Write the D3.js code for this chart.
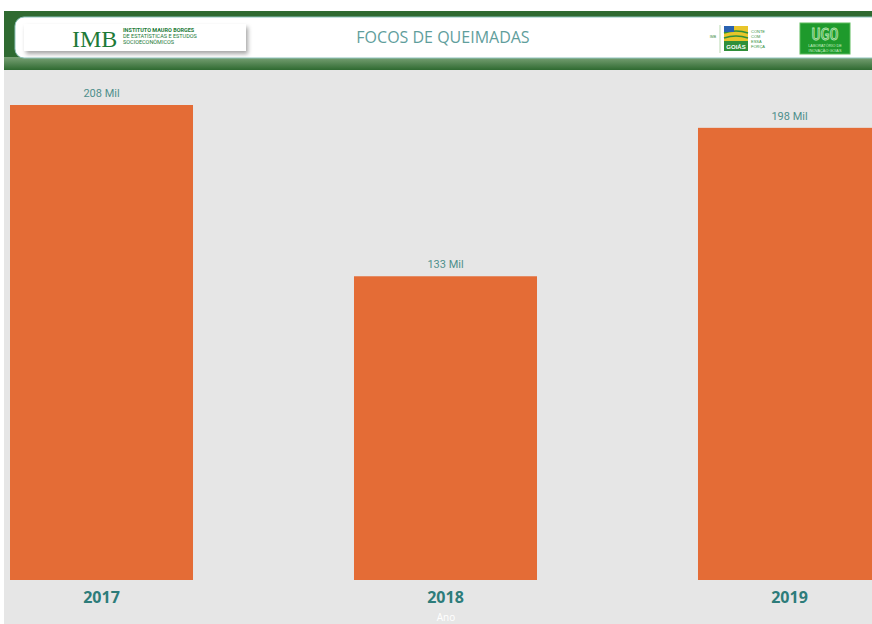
<!DOCTYPE html>
<html>
<head>
<meta charset="utf-8">
<script src="https://cdn.jsdelivr.net/npm/d3@7"></script>
<style>
  body { margin: 0; background: #fff; }
  svg { display: block; }
</style>
</head>
<body>
<div id="chart"></div>
<script>
// focos de queimadas por ano (milhares)
const years = ["2017", "2018", "2019"]
const focos = [208, 133, 198]
const title = "FOCOS DE QUEIMADAS"
const axisTitle = "Ano"

const w = 872
const h = 624

const svg = d3.select("#chart").append("svg")
    .attr("width", w)
    .attr("height", h)

const defs = svg.append("defs")
const grad = defs.append("linearGradient")
    .attr("id", "hdr").attr("x1", 0).attr("y1", 0).attr("x2", 0).attr("y2", 1)
grad.append("stop").attr("offset", "0%").attr("stop-color", "#7aa276")
grad.append("stop").attr("offset", "100%").attr("stop-color", "#2f6a31")

const shadow = defs.append("filter").attr("id", "sh")
    .attr("x", "-10%").attr("y", "-30%").attr("width", "120%").attr("height", "180%")
shadow.append("feDropShadow").attr("dx", 2).attr("dy", 3)
    .attr("stdDeviation", 2).attr("flood-color", "#000").attr("flood-opacity", 0.35)

// page background
svg.append("rect")
    .attr("x", 4).attr("y", 70).attr("width", w - 4).attr("height", h - 70)
    .attr("fill", "#e6e6e6")

// header
svg.append("rect")
    .attr("x", 4).attr("y", 11).attr("width", w - 4).attr("height", 59)
    .attr("fill", "#2f6a31")
svg.append("rect")
    .attr("x", 4).attr("y", 57).attr("width", w - 4).attr("height", 13)
    .attr("fill", "url(#hdr)")
svg.append("rect")
    .attr("x", 15).attr("y", 17).attr("width", w + 20).attr("height", 41)
    .attr("rx", 9)
    .attr("fill", "#fff")
    .attr("stroke", "#8fc3bd").attr("stroke-width", 1)

// IMB logo
svg.append("rect")
    .attr("x", 24).attr("y", 24).attr("width", 222).attr("height", 27)
    .attr("fill", "#fff")
    .attr("filter", "url(#sh)")
svg.append("text")
    .attr("x", 72).attr("y", 47)
    .attr("font-family", "Liberation Serif, DejaVu Serif, serif")
    .attr("font-size", 24)
    .attr("fill", "#1d7a37")
    .text("IMB")
const imbLines = ["INSTITUTO MAURO BORGES", "DE ESTATÍSTICAS E ESTUDOS", "SOCIOECONÔMICOS"]
svg.append("g").selectAll("text")
    .data(imbLines)
    .enter()
    .append("text")
    .attr("x", 123)
    .attr("y", (d, i) => 32 + i * 6)
    .attr("font-family", "Roboto, sans-serif")
    .attr("font-size", 5.5)
    .attr("font-weight", (d, i) => i === 0 ? "bold" : "normal")
    .attr("fill", "#1d7a37")
    .text(d => d)

// title
svg.append("text")
    .attr("x", 443).attr("y", 43)
    .attr("text-anchor", "middle")
    .attr("font-family", "Open Sans, sans-serif")
    .attr("font-size", 16)
    .attr("fill", "#5f9e9c")
    .text(title)

// Goias logo
svg.append("text").attr("x", 716).attr("y", 38).attr("text-anchor", "end")
    .attr("font-size", 3.5).attr("font-family", "sans-serif").attr("fill", "#3a8a3a").text("IMB")
svg.append("line").attr("x1", 720).attr("x2", 720).attr("y1", 25).attr("y2", 53)
    .attr("stroke", "#b9d8b0")
svg.append("rect").attr("x", 724).attr("y", 26).attr("width", 24).attr("height", 25)
    .attr("fill", "#2f8f3a")
svg.append("rect").attr("x", 724).attr("y", 26).attr("width", 24).attr("height", 15)
    .attr("fill", "#e8c52a")
svg.append("path").attr("d", "M724,33 Q736,29 748,33 M724,38 Q736,34 748,38")
    .attr("fill", "none").attr("stroke", "#2f8f3a").attr("stroke-width", 1.5)
svg.append("rect").attr("x", 724).attr("y", 26).attr("width", 10).attr("height", 6)
    .attr("fill", "#2a62b0")
svg.append("text").attr("x", 736).attr("y", 49).attr("text-anchor", "middle")
    .attr("font-size", 6).attr("font-weight", "bold").attr("font-family", "sans-serif")
    .attr("fill", "#fff").text("GOIÁS")
svg.append("g").selectAll("text")
    .data(["CONTE", "COM", "ESSA", "FORÇA"])
    .enter().append("text")
    .attr("x", 751).attr("y", (d, i) => 33 + i * 5)
    .attr("font-size", 4).attr("font-family", "sans-serif").attr("fill", "#2f8f3a")
    .text(d => d)

// UGO logo
svg.append("rect").attr("x", 800).attr("y", 23).attr("width", 50).attr("height", 31)
    .attr("fill", "#1e9a2c").attr("stroke", "#5dbb5d")
svg.append("text").attr("x", 825).attr("y", 40).attr("text-anchor", "middle")
    .attr("font-size", 15).attr("font-family", "DejaVu Sans Mono, monospace")
    .attr("fill", "none").attr("stroke", "#b8e6b0").attr("stroke-width", 0.8)
    .text("UGO")
svg.append("g").selectAll("text")
    .data(["LABORATÓRIO DE", "INOVAÇÃO GOIÁS"])
    .enter().append("text")
    .attr("x", 825).attr("y", (d, i) => 47 + i * 4.5)
    .attr("text-anchor", "middle")
    .attr("font-size", 3.8).attr("font-family", "sans-serif").attr("fill", "#c9efc3")
    .text(d => d)

// scales
const x = d3.scaleBand()
    .domain(years)
    .range([10, 881])
    .paddingInner(0.468)
    .paddingOuter(0)

const y = d3.scaleLinear()
    .domain([0, 208])
    .range([580, 105])

const data = years.map((yr, i) => ({ year: yr, value: focos[i] }))

svg.selectAll("rect.bar")
    .data(data)
    .enter()
    .append("rect")
    .attr("class", "bar")
    .attr("x", d => x(d.year))
    .attr("y", d => y(d.value))
    .attr("width", x.bandwidth())
    .attr("height", d => y(0) - y(d.value))
    .attr("fill", "#e46c36")

svg.selectAll("text.val")
    .data(data)
    .enter()
    .append("text")
    .attr("class", "val")
    .attr("x", d => x(d.year) + x.bandwidth() / 2)
    .attr("y", d => y(d.value) - 8)
    .attr("text-anchor", "middle")
    .attr("font-family", "Roboto, sans-serif")
    .attr("font-size", 11)
    .attr("fill", "#4f8f8c")
    .text(d => d.value + " Mil")

const xAxis = d3.axisBottom(x).tickSize(0).tickPadding(12)

const gx = svg.append("g")
    .attr("transform", `translate(0,580)`)
    .call(xAxis)
gx.select(".domain").remove()
gx.selectAll("text")
    .attr("font-family", "Open Sans, sans-serif")
    .attr("font-size", 16)
    .attr("font-weight", "bold")
    .attr("fill", "#2d7c7a")

svg.append("text")
    .attr("x", 446).attr("y", 621)
    .attr("text-anchor", "middle")
    .attr("font-family", "Open Sans, sans-serif")
    .attr("font-size", 10)
    .attr("fill", "#ffffff")
    .text(axisTitle)
</script>
</body>
</html>
